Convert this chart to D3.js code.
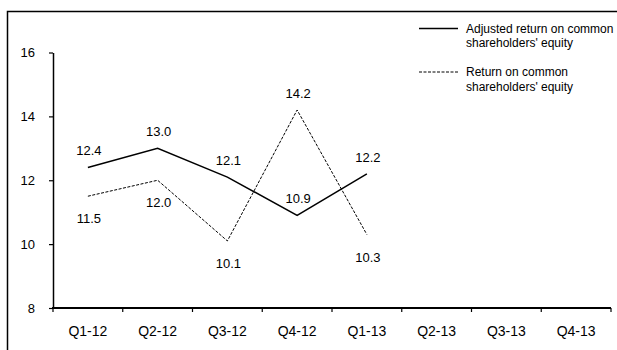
<!DOCTYPE html>
<html>
<head>
<meta charset="utf-8">
<script src="https://cdn.jsdelivr.net/npm/d3@7"></script>
<style>
  body { margin: 0; background: #fff; }
  text { font-family: Arial, "Liberation Sans", sans-serif; fill: #000; }
</style>
</head>
<body>
<div id="chart"></div>
<script>
const quarters = ['Q1-12', 'Q2-12', 'Q3-12', 'Q4-12', 'Q1-13', 'Q2-13', 'Q3-13', 'Q4-13'];
const adjustedRoe = [12.4, 13.0, 12.1, 10.9, 12.2];
const reportedRoe = [11.5, 12.0, 10.1, 14.2, 10.3];
const yTicks = [8, 10, 12, 14, 16];
const seriesNames = ["Adjusted return on common\nshareholders' equity", "Return on common\nshareholders' equity"];

// label placement per point: -1 above, 1 below
const adjustedLabelSide = [-1, -1, -1, -1, -1];
const reportedLabelSide = [1, 1, 1, -1, 1];

const width = 617, height = 350;
const plotLeft = 53, plotRight = 611, plotTop = 52.5, plotBottom = 308;

const svg = d3.select('#chart')
    .append('svg')
    .attr('width', width)
    .attr('height', height);

// frame (only top and left edges are visible)
svg.append('path')
    .attr('d', `M7.5,${height} V11.5 H${width}`)
    .attr('fill', 'none')
    .attr('stroke', '#000')
    .attr('stroke-width', 1.5);

const x = d3.scaleBand()
    .domain(quarters)
    .range([plotLeft, plotRight]);

const y = d3.scaleLinear()
    .domain([8, 16])
    .range([plotBottom, plotTop]);

// y axis (labels drawn separately below)
const yAxis = svg.append('g')
    .attr('transform', `translate(${plotLeft},0)`)
    .call(d3.axisLeft(y).tickValues(yTicks).tickSize(4).tickSizeOuter(0).tickFormat(''));
yAxis.select('.domain').attr('stroke-width', 1.5);
yAxis.selectAll('.tick line').attr('stroke-width', 1.2);

svg.append('g')
    .selectAll('text')
    .data(yTicks)
    .enter()
    .append('text')
    .attr('x', plotLeft - 18)
    .attr('y', d => y(d) + 4.5)
    .attr('text-anchor', 'end')
    .style('font-size', '13px')
    .text(d => d);

// x axis: ticks at band boundaries
const xAxis = svg.append('g')
    .attr('transform', `translate(0,${plotBottom})`);
xAxis.append('line')
    .attr('x1', plotLeft - 1).attr('x2', plotRight)
    .attr('stroke', '#000').attr('stroke-width', 2.2);
const boundaries = quarters.map(q => x(q)).concat([x(quarters[quarters.length - 1]) + x.bandwidth()]);
xAxis.selectAll('.xtick')
    .data(boundaries)
    .enter()
    .append('line')
    .attr('x1', d => d).attr('x2', d => d)
    .attr('y1', 0).attr('y2', 4)
    .attr('stroke', '#000').attr('stroke-width', 1.2);
xAxis.selectAll('.xlabel')
    .data(quarters)
    .enter()
    .append('text')
    .attr('x', d => x(d) + x.bandwidth() / 2)
    .attr('y', 28)
    .attr('text-anchor', 'middle')
    .style('font-size', '14px')
    .text(d => d);

const cx = (d, i) => x(quarters[i]) + x.bandwidth() / 2;
const line = d3.line()
    .x(cx)
    .y(d => y(d));

svg.append('path')
    .datum(adjustedRoe)
    .attr('d', line)
    .attr('fill', 'none')
    .attr('stroke', '#000')
    .attr('stroke-width', 1.5);

svg.append('path')
    .datum(reportedRoe)
    .attr('d', line)
    .attr('fill', 'none')
    .attr('stroke', '#000')
    .attr('stroke-width', 1)
    .attr('stroke-dasharray', '3,1.5');

function addLabels(values, sides) {
    svg.append('g')
        .selectAll('text')
        .data(values)
        .enter()
        .append('text')
        .attr('x', (d, i) => cx(d, i) + 1)
        .attr('y', (d, i) => y(d) + (sides[i] < 0 ? -12 : 27))
        .attr('text-anchor', 'middle')
        .style('font-size', '13px')
        .text(d => d.toFixed(1));
}
addLabels(adjustedRoe, adjustedLabelSide);
addLabels(reportedRoe, reportedLabelSide);

// legend
const legend = svg.append('g');
const legendRows = [28.5, 72];
seriesNames.forEach((name, i) => {
    legend.append('line')
        .attr('x1', 419).attr('x2', 458)
        .attr('y1', legendRows[i]).attr('y2', legendRows[i])
        .attr('stroke', '#000')
        .attr('stroke-width', i === 0 ? 1.5 : 1)
        .attr('stroke-dasharray', i === 0 ? null : '3,1.5');
    const t = legend.append('text')
        .attr('x', 466)
        .attr('y', legendRows[i] + 4)
        .style('font-size', '12px');
    name.split('\n').forEach((part, j) => {
        t.append('tspan')
            .attr('x', 466)
            .attr('dy', j === 0 ? 0 : 14.5)
            .text(part);
    });
});
</script>
</body>
</html>
